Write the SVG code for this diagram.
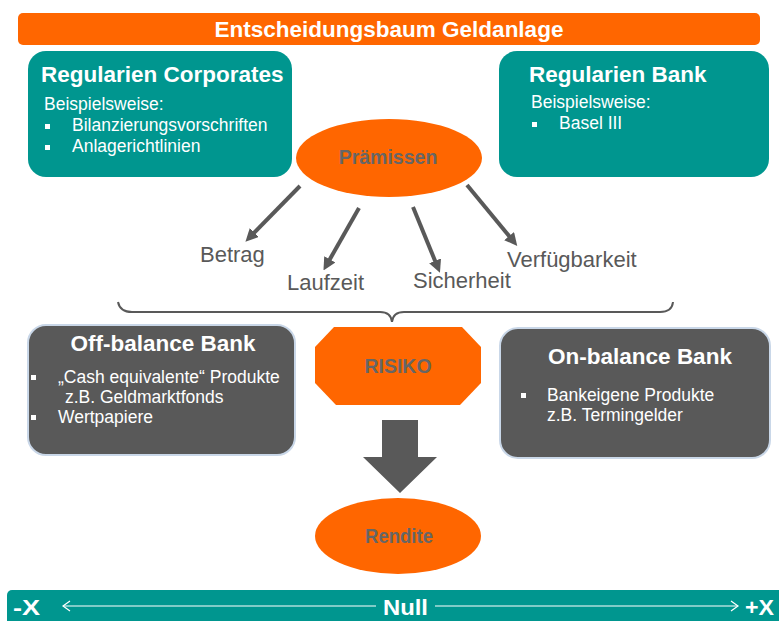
<svg xmlns="http://www.w3.org/2000/svg" width="779" height="621" viewBox="0 0 779 621">
  <defs>
    <style>
      .orange { fill: #FF6600; }
      .teal { fill: #00968F; }
      .dark { fill: #595959; stroke: #C9D7E8; stroke-width: 2; }
      .t { font-family: "Liberation Sans", Arial, sans-serif; }
      .title { font-size: 22.5px; font-weight: bold; fill: #FFFFFF; }
      .head { font-size: 22.5px; font-weight: bold; fill: #FFFFFF; }
      .body { font-size: 17.5px; fill: #FFFFFF; }
      .lbl { font-size: 22px; fill: #595959; }
      .core { font-size: 19.5px; font-weight: bold; fill: #666666; text-anchor: middle; }
      .bar { font-size: 22px; font-weight: bold; fill: #FFFFFF; }
      .conn { stroke: #595959; stroke-width: 4; fill: none; }
      .axis { stroke: #FFFFFF; stroke-width: 1.2; fill: none; }
    </style>
    <marker id="ah" viewBox="0 0 10 10" refX="6" refY="5" markerWidth="3.2" markerHeight="3.2" orient="auto" markerUnits="strokeWidth">
      <path d="M0,0 L10,5 L0,10 Z" fill="#595959"/>
    </marker>
  </defs>

  <rect width="779" height="621" fill="#FFFFFF"/>

  <!-- Title bar -->
  <g id="title">
    <rect x="18" y="13" width="742" height="32" rx="5" class="orange"/>
    <text x="389" y="37" class="t title" text-anchor="middle">Entscheidungsbaum Geldanlage</text>
  </g>

  <!-- Regulation boxes -->
  <g id="reg-corporates">
    <rect x="28" y="51" width="264" height="126" rx="18" class="teal"/>
    <text x="41" y="82" class="t head">Regularien Corporates</text>
    <text x="44" y="110" class="t body">Beispielsweise:</text>
    <rect x="45" y="124" width="5" height="5" fill="#FFFFFF"/>
    <text x="72" y="131" class="t body">Bilanzierungsvorschriften</text>
    <rect x="45" y="145" width="5" height="5" fill="#FFFFFF"/>
    <text x="72" y="152" class="t body">Anlagerichtlinien</text>
  </g>

  <g id="reg-bank">
    <rect x="499" y="51" width="270" height="126" rx="18" class="teal"/>
    <text x="529" y="82" class="t head">Regularien Bank</text>
    <text x="531" y="108" class="t body">Beispielsweise:</text>
    <rect x="532" y="122" width="5" height="5" fill="#FFFFFF"/>
    <text x="559" y="129" class="t body">Basel III</text>
  </g>

  <!-- Premises -->
  <g id="praemissen">
    <ellipse cx="389" cy="158" rx="93" ry="39" class="orange"/>
    <text x="388" y="164" class="t core">Prämissen</text>
  </g>

  <!-- Connectors from premises to criteria -->
  <g id="connectors">
    <line x1="300" y1="186" x2="249" y2="238" class="conn" marker-end="url(#ah)"/>
    <line x1="359" y1="208" x2="326" y2="266" class="conn" marker-end="url(#ah)"/>
    <line x1="413" y1="207" x2="438" y2="268" class="conn" marker-end="url(#ah)"/>
    <line x1="467" y1="185" x2="514" y2="242" class="conn" marker-end="url(#ah)"/>
    <!-- curly brace gathering the criteria -->
    <path d="M118,302 Q120,312 132,312 L380,312 Q391,312 392,322 Q393,312 404,312 L660,312 Q672,312 673,302" stroke="#595959" stroke-width="2" fill="none"/>
    <!-- big arrow risk to return -->
    <path d="M382,420 L418,420 L418,457 L437,457 L400,493 L363,457 L382,457 Z" fill="#595959"/>
  </g>

  <!-- Criteria labels -->
  <g id="criteria">
    <text x="200" y="262" class="t lbl">Betrag</text>
    <text x="287" y="290" class="t lbl">Laufzeit</text>
    <text x="413" y="288" class="t lbl">Sicherheit</text>
    <text x="507" y="267" class="t lbl">Verfügbarkeit</text>
  </g>

  <!-- Bank product boxes -->
  <g id="off-balance">
    <rect x="28" y="325" width="267" height="130" rx="18" class="dark"/>
    <text x="163" y="351" class="t head" text-anchor="middle">Off-balance Bank</text>
    <rect x="31" y="375" width="5" height="5" fill="#FFFFFF"/>
    <text x="58" y="383" class="t body">„Cash equivalente“ Produkte</text>
    <text x="65" y="403" class="t body">z.B. Geldmarktfonds</text>
    <rect x="31" y="415" width="5" height="5" fill="#FFFFFF"/>
    <text x="58" y="423" class="t body">Wertpapiere</text>
  </g>

  <g id="on-balance">
    <rect x="500" y="328" width="270" height="130" rx="18" class="dark"/>
    <text x="640" y="364" class="t head" text-anchor="middle">On-balance Bank</text>
    <rect x="521" y="393" width="5" height="5" fill="#FFFFFF"/>
    <text x="547" y="401" class="t body">Bankeigene Produkte</text>
    <text x="547" y="421" class="t body">z.B. Termingelder</text>
  </g>

  <!-- Risk -->
  <g id="risiko">
    <polygon points="334,327 462,327 481,347 481,383 460,405 336,405 315,383 315,347" class="orange"/>
    <text x="398" y="373" class="t core">RISIKO</text>
  </g>

  <!-- Return -->
  <g id="rendite">
    <ellipse cx="398" cy="536" rx="83" ry="38" class="orange"/>
    <text x="399" y="543" class="t core" font-size="21px" textLength="68" lengthAdjust="spacingAndGlyphs">Rendite</text>
  </g>

  <!-- Return scale -->
  <g id="scale">
    <rect x="7" y="590" width="780" height="40" rx="5" class="teal"/>
    <text x="13" y="615" class="t bar" textLength="27" lengthAdjust="spacingAndGlyphs">-X</text>
    <text x="383" y="615" class="t bar" textLength="45" lengthAdjust="spacingAndGlyphs">Null</text>
    <text x="745" y="615" class="t bar" textLength="29" lengthAdjust="spacingAndGlyphs">+X</text>
    <line x1="63" y1="606" x2="376" y2="606" class="axis"/>
    <path d="M70,601 L63,606 L70,611" class="axis"/>
    <line x1="435" y1="606" x2="738" y2="606" class="axis"/>
    <path d="M731,601 L738,606 L731,611" class="axis"/>
  </g>
</svg>
